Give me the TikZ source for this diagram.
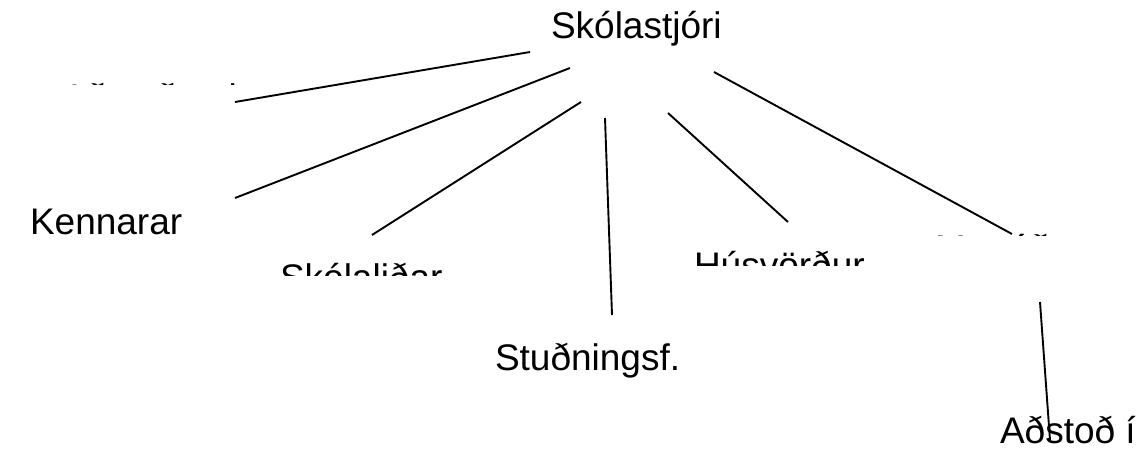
\documentclass[tikz,border=0pt]{standalone}
\usepackage{fontspec}
\setmainfont{Liberation Sans}
\begin{document}
\begin{tikzpicture}[x=1pt,y=-1pt,
  lbl/.style={anchor=base west,inner sep=0pt,outer sep=0pt,font=\fontsize{37}{41}\selectfont},
  conn/.style={draw=black,line width=1.9pt}]
\useasboundingbox (0,0) rectangle (1141,448);
% labels
\node[lbl] (boss) at (551,38) {Skólastjóri};
\node[lbl] (kenn) at (30,234) {Kennarar};
\node[lbl] (stud) at (495,370) {Stuðningsf.};
\node[lbl] (adst) at (1000,443) {Aðstoð í};
\begin{scope}
  \clip (40,0) rectangle (245,84.5);
  \node[lbl] (asst) at (62,110) {Aðstoðarskólastjóri};
\end{scope}
\begin{scope}
  \clip (260,200) rectangle (480,275);
  \node[lbl] (skol) at (280,290) {Skólaliðar};
\end{scope}
\begin{scope}
  \clip (680,200) rectangle (900,265);
  \node[lbl] (hus) at (694,278) {Húsvörður};
\end{scope}
\begin{scope}
  \clip (920,200) rectangle (1100,235);
  \node[lbl] (mat) at (935,261) {Matráður};
\end{scope}
% connector end points
\coordinate (b1) at (530,52);  \coordinate (e1) at (235,102);
\coordinate (b2) at (570,68);  \coordinate (e2) at (235,198);
\coordinate (b3) at (581,102); \coordinate (e3) at (372,235);
\coordinate (b4) at (605,118); \coordinate (e4) at (612,315);
\coordinate (b5) at (668,113); \coordinate (e5) at (788,222);
\coordinate (b6) at (714,72);  \coordinate (e6) at (1012,234);
\coordinate (b7) at (1040,302); \coordinate (e7) at (1050,440);
\draw[conn] (b1) -- (e1);
\draw[conn] (b2) -- (e2);
\draw[conn] (b3) -- (e3);
\draw[conn] (b4) -- (e4);
\draw[conn] (b5) -- (e5);
\draw[conn] (b6) -- (e6);
\draw[conn] (b7) -- (e7);
\end{tikzpicture}
\end{document}
